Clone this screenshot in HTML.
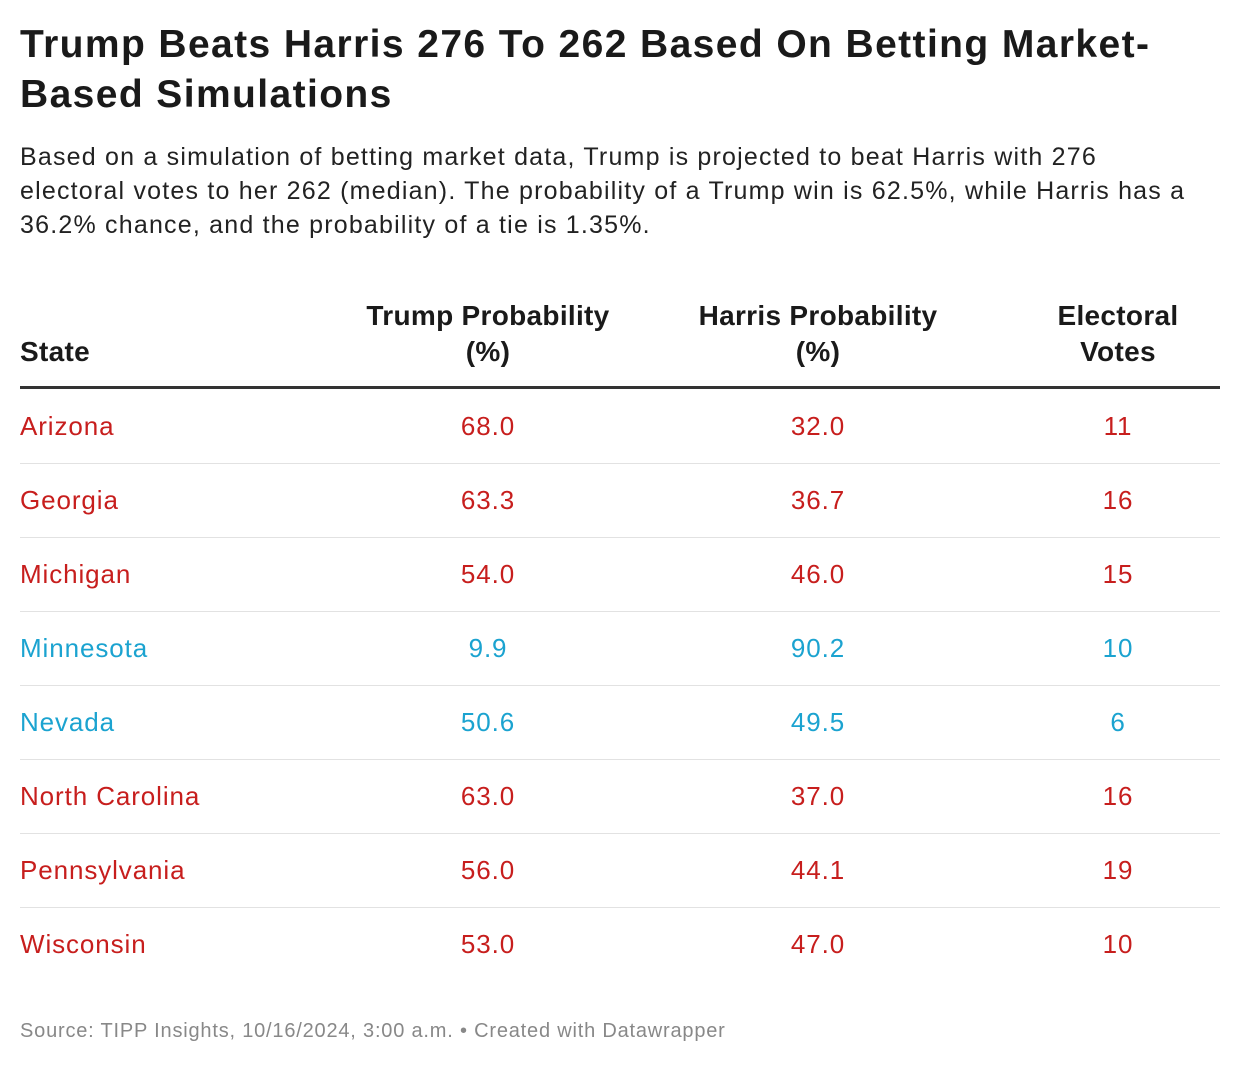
<!DOCTYPE html>
<html><head><meta charset="utf-8"><style>
body{margin:0;background:#fff;font-family:"Liberation Sans",Arial,sans-serif;color:#1a1a1a;width:1240px;height:1066px;position:relative;overflow:hidden}
.t{position:absolute;left:20px;top:20px;font-size:39px;font-weight:bold;line-height:50px;width:1220px;white-space:nowrap;letter-spacing:1.4px}
.s{position:absolute;left:20px;top:140px;font-size:25px;line-height:34px;width:1220px;color:#222;white-space:nowrap;letter-spacing:1.2px}
.h{position:absolute;font-weight:bold;font-size:28px;line-height:36px;text-align:center;width:400px;letter-spacing:0.3px}
.rule{position:absolute;left:20px;width:1200px;height:3px;background:#333;top:386px}
.row{position:absolute;left:20px;width:1200px;height:74px;border-bottom:1px solid #e2e2e2;font-size:26px;letter-spacing:0.9px}
.c{position:absolute;top:22px;line-height:30px;width:300px;text-align:center}
.r{color:#c71e1d}.b{color:#1ba3d0}
.f{position:absolute;left:20px;top:1020px;font-size:20px;color:#888;letter-spacing:0.8px}
</style></head><body>
<div class="t">Trump Beats Harris 276 To 262 Based On Betting Market-<br>Based Simulations</div>
<div class="s">Based on a simulation of betting market data, Trump is projected to beat Harris with 276<br>electoral votes to her 262 (median). The probability of a Trump win is 62.5%, while Harris has a<br>36.2% chance, and the probability of a tie is 1.35%.</div>
<div class="h" style="left:20px;top:334px;text-align:left">State</div>
<div class="h" style="left:288px;top:298px">Trump Probability<br>(%)</div>
<div class="h" style="left:618px;top:298px">Harris Probability<br>(%)</div>
<div class="h" style="left:918px;top:298px">Electoral<br>Votes</div>
<div class="rule"></div>
<div id="tb"></div>
<div class="f">Source: TIPP Insights, 10/16/2024, 3:00 a.m. • Created with Datawrapper</div>
<script>
const states=["Arizona","Georgia","Michigan","Minnesota","Nevada","North Carolina","Pennsylvania","Wisconsin"];
const trump=["68.0","63.3","54.0","9.9","50.6","63.0","56.0","53.0"];
const harris=["32.0","36.7","46.0","90.2","49.5","37.0","44.1","47.0"];
const votes=[11,16,15,10,6,16,19,10];
const party=["r","r","r","b","b","r","r","r"];
const tb=document.getElementById('tb');
const centers=[null,468,798,1098];
states.forEach((s,i)=>{
 const tr=document.createElement('div');
 tr.className='row '+party[i];
 tr.style.top=(389+74*i)+'px';
 if(i===states.length-1)tr.style.borderBottom='none';
 
 
 [s,trump[i],harris[i],votes[i]].forEach((v,j)=>{
  const td=document.createElement('div');
  td.className='c';
  td.textContent=v;
  if(j===0){td.style.left='0px';td.style.textAlign='left';}
  else td.style.left=(centers[j]-150)+'px';
  
  
  tr.appendChild(td);
 });
 tb.appendChild(tr);
});
</script>
</body></html>
